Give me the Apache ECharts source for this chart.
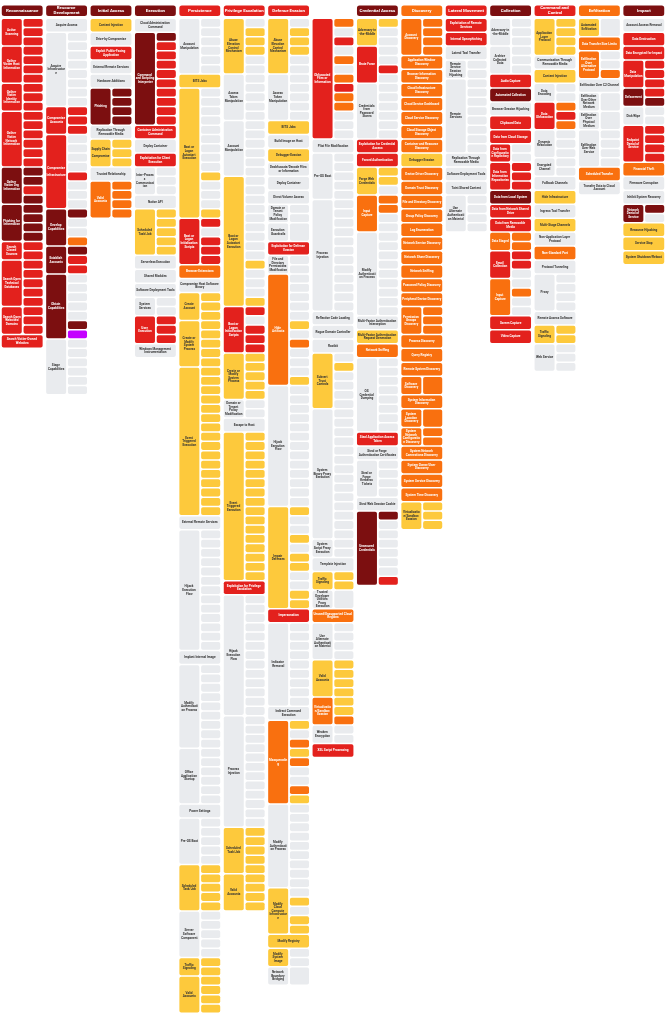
<!DOCTYPE html>
<html>
<head>
<meta charset="utf-8">
<script src="https://cdn.jsdelivr.net/npm/echarts@6/dist/echarts.min.js"></script>
<style>html,body{margin:0;padding:0;background:#fff}#main{width:666px;height:1024px}</style>
</head>
<body>
<div id="main"></div>
<script>
// levels: 0 none, 1 low, 2 medium, 3 high, 4 very high, 5 new
var levelColors = ['#e9ebee', '#fdc93c', '#f9700f', '#e3211d', '#7c0f10', '#c400ff'];
var levelText = ['#333', '#333', '#fff', '#fff', '#fff', '#fff'];

var tactics = ['Reconnaissance', 'Resource Development', 'Initial Access', 'Execution', 'Persistence',
  'Privilege Escalation', 'Defense Evasion', '', 'Credential Access', 'Discovery', 'Lateral Movement',
  'Collection', 'Command and Control', 'Exfiltration', 'Impact'];
var tacticLevels = [4, 4, 4, 4, 3, 3, 3, -1, 4, 2, 3, 4, 3, 2, 4];

// [technique, level, sub-technique levels]
var recon = [
  ['Active Scanning', 3, '333'], ['Gather Victim Host Information', 3, '3333'],
  ['Gather Victim Identity Information', 3, '333'], ['Gather Victim Network Information', 3, '333333'],
  ['Gather Victim Org Information', 4, '4434'], ['Phishing for Information', 4, '4444'],
  ['Search Closed Sources', 3, '33'], ['Search Open Technical Databases', 3, '33333'],
  ['Search Open Websites/Domains', 3, '333'], ['Search Victim-Owned Websites', 3, '']
];
var resourceDev = [
  ['Acquire Access', 0, ''], ['Acquire Infrastructure', 0, '00000000'],
  ['Compromise Accounts', 3, '333'], ['Compromise Infrastructure', 3, '00003000'],
  ['Develop Capabilities', 4, '4002'], ['Establish Accounts', 4, '433'],
  ['Obtain Capabilities', 4, '0000045'], ['Stage Capabilities', 0, '000000']
];
var initialAccess = [
  ['Content Injection', 1, ''], ['Drive-by Compromise', 0, ''],
  ['Exploit Public-Facing Application', 3, ''], ['External Remote Services', 0, ''],
  ['Hardware Additions', 0, ''], ['Phishing', 4, '4444'],
  ['Replication Through Removable Media', 0, ''], ['Supply Chain Compromise', 1, '111'],
  ['Trusted Relationship', 0, ''], ['Valid Accounts', 2, '2222']
];
var execution = [
  ['Cloud Administration Command', 0, ''], ['Command and Scripting Interpreter', 4, '4333333333'],
  ['Container Administration Command', 3, ''], ['Deploy Container', 0, ''],
  ['Exploitation for Client Execution', 3, ''], ['Inter-Process Communication', 0, '000'],
  ['Native API', 0, ''], ['Scheduled Task/Job', 1, '11111'], ['Serverless Execution', 0, ''],
  ['Shared Modules', 0, ''], ['Software Deployment Tools', 0, ''], ['System Services', 0, '00'],
  ['User Execution', 3, '333'], ['Windows Management Instrumentation', 0, '']
];
var persistence = [
  ['Account Manipulation', 0, '000000'], ['BITS Jobs', 1, ''],
  ['Boot or Logon Autostart Execution', 1, '00000000010001'],
  ['Boot or Logon Initialization Scripts', 3, '30333'], ['Browser Extensions', 2, ''],
  ['Compromise Host Software Binary', 0, ''], ['Create Account', 1, '111'],
  ['Create or Modify System Process', 1, '11111'], ['Event Triggered Execution', 1, '1111111111111111'],
  ['External Remote Services', 0, ''], ['Hijack Execution Flow', 0, '0000000000000'],
  ['Implant Internal Image', 0, ''], ['Modify Authentication Process', 0, '000000000'],
  ['Office Application Startup', 0, '000000'], ['Power Settings', 0, ''],
  ['Pre-OS Boot', 0, '00000'], ['Scheduled Task/Job', 1, '11111'],
  ['Server Software Component', 0, '00000'], ['Traffic Signaling', 1, '11'],
  ['Valid Accounts', 1, '1111']
];
var privEsc = [
  ['Abuse Elevation Control Mechanism', 1, '011100'], ['Access Token Manipulation', 0, '00000'],
  ['Account Manipulation', 0, '000000'], ['Boot or Logon Autostart Execution', 1, '00000000010001'],
  ['Boot or Logon Initialization Scripts', 3, '30333'], ['Create or Modify System Process', 1, '11111'],
  ['Domain or Tenant Policy Modification', 0, '00'], ['Escape to Host', 0, ''],
  ['Event Triggered Execution', 1, '1111111111111111'], ['Exploitation for Privilege Escalation', 3, ''],
  ['Hijack Execution Flow', 0, '0000000000000'], ['Process Injection', 0, '000000000000'],
  ['Scheduled Task/Job', 1, '11111'], ['Valid Accounts', 1, '1111']
];
var defenseEvasion1 = [
  ['Abuse Elevation Control Mechanism', 1, '011100'], ['Access Token Manipulation', 0, '00000'],
  ['BITS Jobs', 1, ''], ['Build Image on Host', 0, ''], ['Debugger Evasion', 1, ''],
  ['Deobfuscate/Decode Files or Information', 0, ''], ['Deploy Container', 0, ''],
  ['Direct Volume Access', 0, ''], ['Domain or Tenant Policy Modification', 0, '00'],
  ['Execution Guardrails', 0, '0'], ['Exploitation for Defense Evasion', 3, ''],
  ['File and Directory Permissions Modification', 0, '00'], ['Hide Artifacts', 2, '000001020001'],
  ['Hijack Execution Flow', 0, '0000000000000'], ['Impair Defenses', 1, '10010110011'],
  ['Impersonation', 3, ''], ['Indicator Removal', 0, '000000000'],
  ['Indirect Command Execution', 0, ''], ['Masquerading', 2, '102120021'],
  ['Modify Authentication Process', 0, '000000000'], ['Modify Cloud Compute Infrastructure', 1, '01011'],
  ['Modify Registry', 1, ''], ['Modify System Image', 1, '00'], ['Network Boundary Bridging', 0, '0']
];
var defenseEvasion2 = [
  ['Obfuscated Files or Information', 3, '2030202322000'], ['Plist File Modification', 0, ''],
  ['Pre-OS Boot', 0, '00000'], ['Process Injection', 0, '000000000000'],
  ['Reflective Code Loading', 0, ''], ['Rogue Domain Controller', 0, ''], ['Rootkit', 0, ''],
  ['Subvert Trust Controls', 1, '010000'], ['System Binary Proxy Execution', 0, '00000000000000'],
  ['System Script Proxy Execution', 0, '00'], ['Template Injection', 0, ''],
  ['Traffic Signaling', 1, '11'], ['Trusted Developer Utilities Proxy Execution', 0, '0'],
  ['Unused/Unsupported Cloud Regions', 2, ''], ['Use Alternate Authentication Material', 0, '0000'],
  ['Valid Accounts', 1, '1111'], ['Virtualization/Sandbox Evasion', 2, '112'],
  ['Weaken Encryption', 0, '00'], ['XSL Script Processing', 3, '']
];
var credentialAccess = [
  ['Adversary-in-the-Middle', 1, '100'], ['Brute Force', 3, '0030'],
  ['Credentials from Password Stores', 0, '000000'], ['Exploitation for Credential Access', 3, ''],
  ['Forced Authentication', 3, ''], ['Forge Web Credentials', 1, '110'],
  ['Input Capture', 2, '2200'], ['Modify Authentication Process', 0, '000000000'],
  ['Multi-Factor Authentication Interception', 0, ''], ['Multi-Factor Authentication Request Generation', 1, ''],
  ['Network Sniffing', 2, ''], ['OS Credential Dumping', 0, '00000000'],
  ['Steal Application Access Token', 3, ''], ['Steal or Forge Authentication Certificates', 0, ''],
  ['Steal or Forge Kerberos Tickets', 0, '0000'], ['Steal Web Session Cookie', 0, ''],
  ['Unsecured Credentials', 4, '40000003']
];
var discovery = [
  ['Account Discovery', 2, '2222'], ['Application Window Discovery', 2, ''],
  ['Browser Information Discovery', 2, ''], ['Cloud Infrastructure Discovery', 2, ''],
  ['Cloud Service Dashboard', 2, ''], ['Cloud Service Discovery', 2, ''],
  ['Cloud Storage Object Discovery', 2, ''], ['Container and Resource Discovery', 2, ''],
  ['Debugger Evasion', 1, ''], ['Device Driver Discovery', 2, ''], ['Domain Trust Discovery', 2, ''],
  ['File and Directory Discovery', 2, ''], ['Group Policy Discovery', 2, ''], ['Log Enumeration', 2, ''],
  ['Network Service Discovery', 2, ''], ['Network Share Discovery', 2, ''], ['Network Sniffing', 2, ''],
  ['Password Policy Discovery', 2, ''], ['Peripheral Device Discovery', 2, ''],
  ['Permission Groups Discovery', 2, '222'], ['Process Discovery', 2, ''], ['Query Registry', 2, ''],
  ['Remote System Discovery', 2, ''], ['Software Discovery', 2, '2'],
  ['System Information Discovery', 2, ''], ['System Location Discovery', 2, '2'],
  ['System Network Configuration Discovery', 2, '22'], ['System Network Connections Discovery', 2, ''],
  ['System Owner/User Discovery', 2, ''], ['System Service Discovery', 2, ''],
  ['System Time Discovery', 2, ''], ['Virtualization/Sandbox Evasion', 1, '111']
];
var lateral = [
  ['Exploitation of Remote Services', 3, ''], ['Internal Spearphishing', 3, ''],
  ['Lateral Tool Transfer', 0, ''], ['Remote Service Session Hijacking', 0, '00'],
  ['Remote Services', 0, '00000000'], ['Replication Through Removable Media', 0, ''],
  ['Software Deployment Tools', 0, ''], ['Taint Shared Content', 0, ''],
  ['Use Alternate Authentication Material', 0, '0000']
];
var collection = [
  ['Adversary-in-the-Middle', 0, '000'], ['Archive Collected Data', 0, '000'],
  ['Audio Capture', 3, ''], ['Automated Collection', 4, ''], ['Browser Session Hijacking', 0, ''],
  ['Clipboard Data', 3, ''], ['Data from Cloud Storage', 3, ''],
  ['Data from Configuration Repository', 3, '00'], ['Data from Information Repositories', 3, '333'],
  ['Data from Local System', 4, ''], ['Data from Network Shared Drive', 3, ''],
  ['Data from Removable Media', 3, ''], ['Data Staged', 2, '22'], ['Email Collection', 3, '330'],
  ['Input Capture', 2, '0200'], ['Screen Capture', 3, ''], ['Video Capture', 3, '']
];
var commandControl = [
  ['Application Layer Protocol', 1, '1111'], ['Communication Through Removable Media', 0, ''],
  ['Content Injection', 1, ''], ['Data Encoding', 0, '00'], ['Data Obfuscation', 3, '232'],
  ['Dynamic Resolution', 0, '000'], ['Encrypted Channel', 0, '00'], ['Fallback Channels', 0, ''],
  ['Hide Infrastructure', 1, ''], ['Ingress Tool Transfer', 0, ''], ['Multi-Stage Channels', 1, ''],
  ['Non-Application Layer Protocol', 0, ''], ['Non-Standard Port', 2, ''], ['Protocol Tunneling', 0, ''],
  ['Proxy', 0, '0000'], ['Remote Access Software', 0, ''], ['Traffic Signaling', 1, '11'],
  ['Web Service', 0, '000']
];
var exfiltration = [
  ['Automated Exfiltration', 1, '0'], ['Data Transfer Size Limits', 2, ''],
  ['Exfiltration Over Alternative Protocol', 2, '002'], ['Exfiltration Over C2 Channel', 0, ''],
  ['Exfiltration Over Other Network Medium', 0, '0'], ['Exfiltration Over Physical Medium', 0, '0'],
  ['Exfiltration Over Web Service', 0, '0000'], ['Scheduled Transfer', 2, ''],
  ['Transfer Data to Cloud Account', 0, '']
];
var impact = [
  ['Account Access Removal', 0, ''], ['Data Destruction', 3, ''], ['Data Encrypted for Impact', 3, ''],
  ['Data Manipulation', 3, '333'], ['Defacement', 4, '34'], ['Disk Wipe', 0, '00'],
  ['Endpoint Denial of Service', 3, '3333'], ['Financial Theft', 2, ''], ['Firmware Corruption', 0, ''],
  ['Inhibit System Recovery', 0, ''], ['Network Denial of Service', 4, '40'],
  ['Resource Hijacking', 1, ''], ['Service Stop', 1, ''], ['System Shutdown/Reboot', 1, '']
];

var columns = [recon, resourceDev, initialAccess, execution, persistence, privEsc, defenseEvasion1,
  defenseEvasion2, credentialAccess, discovery, lateral, collection, commandControl, exfiltration, impact];

// flatten into drawable cells
var cells = [];
tactics.forEach(function (t, i) {
  if (t) cells.push({ slot: i, y: -1.45, h: 1.3, level: tacticLevels[i], kind: 'head', text: t });
});
columns.forEach(function (col, slot) {
  var y = 0;
  col.forEach(function (tech) {
    var subs = tech[2];
    var h = subs.length ? Math.max(subs.length, 2) : 1.5;
    cells.push({ slot: slot, y: y, h: h, level: tech[1], kind: subs.length ? 'parent' : 'full', text: tech[0] });
    for (var k = 0; k < subs.length; k++) {
      cells.push({ slot: slot, y: y + k * h / subs.length, h: h / subs.length, level: +subs[k], kind: 'sub', text: '' });
    }
    y += h;
  });
});

var chart = echarts.init(document.getElementById('main'));
chart.setOption({
  animation: false,
  grid: { left: 0, right: 0, top: 5, bottom: 10 },
  xAxis: { type: 'value', min: 0, max: 15, show: false },
  yAxis: { type: 'value', min: -1.5, max: 107, inverse: true, show: false },
  series: [{
    type: 'custom',
    data: cells.map(function (c) { return [c.slot, c.y, c.h, c.level]; }),
    renderItem: function (params, api) {
      var c = cells[params.dataIndex];
      var p = api.coord([api.value(0), api.value(1)]);
      var w = api.size([1, 0])[0];
      var hp = api.size([0, api.value(2)])[1];
      var x0 = 0.04, x1 = 0.96;
      if (c.kind === 'parent') x1 = 0.49;
      if (c.kind === 'sub') x0 = 0.53;
      var bw = (x1 - x0) * w, bh = Math.max(hp - 1.5, 1);
      var lvl = api.value(3);
      var isHead = c.kind === 'head';
      return {
        type: 'rect',
        shape: { x: p[0] + x0 * w, y: p[1], width: bw, height: bh, r: isHead ? 2.5 : 1.8 },
        style: { fill: levelColors[lvl] },
        textContent: {
          style: {
            text: c.text,
            fill: levelText[lvl],
            fontFamily: 'Roboto, sans-serif',
            fontSize: isHead ? 4.4 : 3.1,
            fontWeight: 'bold',
            lineHeight: isHead ? 5 : 3.6,
            width: bw - 1.5,
            overflow: 'break',
            align: 'center',
            verticalAlign: 'middle'
          }
        },
        textConfig: { position: 'inside' }
      };
    }
  }]
});
</script>
</body>
</html>
